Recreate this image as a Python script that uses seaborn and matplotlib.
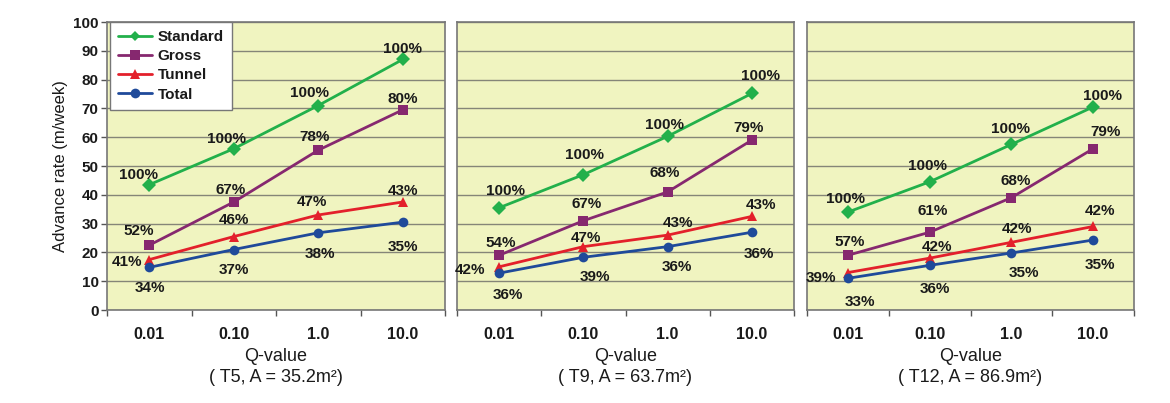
import numpy as np
import pandas as pd
import matplotlib
matplotlib.use("Agg")
import matplotlib.pyplot as plt
import seaborn as sns

# ---------------- data ----------------
q_labels = ["0.01", "0.10", "1.0", "10.0"]
series_names = ["Standard", "Gross", "Tunnel", "Total"]
panel_titles = ["( T5, A = 35.2m\u00b2)", "( T9, A = 63.7m\u00b2)", "( T12, A = 86.9m\u00b2)"]

t5_standard = [43.5, 56.0, 71.0, 87.0]
t5_gross = [22.5, 37.5, 55.5, 69.5]
t5_tunnel = [17.5, 25.5, 33.0, 37.5]
t5_total = [14.8, 21.0, 26.8, 30.5]

t9_standard = [35.5, 47.0, 60.3, 75.2]
t9_gross = [19.0, 31.0, 41.0, 59.0]
t9_tunnel = [15.0, 22.0, 26.0, 32.5]
t9_total = [12.8, 18.3, 22.0, 27.0]

t12_standard = [34.0, 44.5, 57.5, 70.5]
t12_gross = [19.0, 27.0, 39.0, 56.0]
t12_tunnel = [13.0, 18.0, 23.5, 29.0]
t12_total = [11.0, 15.5, 19.8, 24.3]

t5_pct_standard = ["100%", "100%", "100%", "100%"]
t5_pct_gross = ["52%", "67%", "78%", "80%"]
t5_pct_tunnel = ["41%", "46%", "47%", "43%"]
t5_pct_total = ["34%", "37%", "38%", "35%"]

t9_pct_standard = ["100%", "100%", "100%", "100%"]
t9_pct_gross = ["54%", "67%", "68%", "79%"]
t9_pct_tunnel = ["42%", "47%", "43%", "43%"]
t9_pct_total = ["36%", "39%", "36%", "36%"]

t12_pct_standard = ["100%", "100%", "100%", "100%"]
t12_pct_gross = ["57%", "61%", "68%", "79%"]
t12_pct_tunnel = ["39%", "42%", "42%", "42%"]
t12_pct_total = ["33%", "36%", "35%", "35%"]

panels_values = [
    [t5_standard, t5_gross, t5_tunnel, t5_total],
    [t9_standard, t9_gross, t9_tunnel, t9_total],
    [t12_standard, t12_gross, t12_tunnel, t12_total],
]
panels_pcts = [
    [t5_pct_standard, t5_pct_gross, t5_pct_tunnel, t5_pct_total],
    [t9_pct_standard, t9_pct_gross, t9_pct_tunnel, t9_pct_total],
    [t12_pct_standard, t12_pct_gross, t12_pct_tunnel, t12_pct_total],
]

# ---------------- style / layout ----------------
colors = {"Standard": "#22b04b", "Gross": "#86286f", "Tunnel": "#e3202b", "Total": "#1f4a9a"}
markers = {"Standard": "D", "Gross": "s", "Tunnel": "^", "Total": "o"}
msizes = {"Standard": 5, "Gross": 7, "Tunnel": 7, "Total": 7}

# label offsets in pixels (dx, dy) per panel / series / point
label_offsets = [
    [[(-11, 10), (-7, 10), (-9, 13), (0, 10)],
     [(-11, 14), (-3, 12), (-4, 13), (0, 11)],
     [(-22, -2), (0, 17), (-6, 13), (0, 11)],
     [(1, -21), (0, -20), (2, -21), (0, -25)]],
    [[(6, 17), (1, 20), (-3, 11), (9, 17)],
     [(2, 12), (3, 17), (-3, 19), (-3, 12)],
     [(-29, -3), (3, 9), (10, 12), (9, 11)],
     [(9, -22), (12, -20), (9, -20), (7, -22)]],
    [[(-2, 13), (-2, 16), (-1, 15), (9, 11)],
     [(2, 13), (3, 21), (4, 17), (12, 17)],
     [(-27, -5), (7, 11), (6, 13), (7, 15)],
     [(12, -24), (5, -24), (13, -20), (7, -25)]],
]

sns.set_theme(style="white")
plt.rcParams["font.family"] = ["Liberation Sans", "DejaVu Sans"]

fig = plt.figure(figsize=(11.7, 4.03), dpi=100)
W, H = 1170, 403
axes_px = [(107, 338), (457, 337), (807, 327)]
top_px, bot_px = 22, 310

bg = "#f0f4c0"
grid_c = "#858578"
text_c = "#1a1a1a"

for p, (left, width) in enumerate(axes_px):
    ax = fig.add_axes([left / W, (H - bot_px) / H, width / W, (bot_px - top_px) / H])
    ax.set_facecolor(bg)
    rows = []
    for s_name, vals in zip(series_names, panels_values[p]):
        for i, v in enumerate(vals):
            rows.append({"pos": i, "value": v, "series": s_name})
    df = pd.DataFrame(rows)
    sns.lineplot(data=df, x="pos", y="value", hue="series", style="series",
                 hue_order=series_names, style_order=series_names,
                 palette=colors, markers=markers, dashes=False,
                 linewidth=2, markersize=7, markeredgewidth=0,
                 legend=(p == 0), ax=ax, zorder=3)
    for line in ax.lines:
        lab = line.get_label()
        if lab in msizes:
            line.set_markersize(msizes[lab])
    for s_idx, (vals, pcts) in enumerate(zip(panels_values[p], panels_pcts[p])):
        for i, (v, t) in enumerate(zip(vals, pcts)):
            dx, dy = label_offsets[p][s_idx][i]
            ax.annotate(t, (i, v), xytext=(dx, dy), textcoords="offset pixels",
                        ha="center", va="center", fontsize=11, color=text_c,
                        fontweight="bold", zorder=5)
    ax.set_xlim(-0.5, 3.5)
    ax.set_ylim(0, 100)
    ax.set_yticks(np.arange(0, 101, 10))
    ax.yaxis.grid(True, color=grid_c, linewidth=1.0)
    ax.xaxis.grid(False)
    ax.set_axisbelow(True)
    ax.set_xticks(range(4))
    ax.set_xticklabels(q_labels, fontsize=11.5, fontweight="bold", color=text_c)
    ax.set_xticks(np.arange(-0.5, 3.6, 1.0), minor=True)
    ax.tick_params(axis="x", which="major", length=0, pad=12.5)
    ax.tick_params(axis="x", which="minor", length=4, width=1, color="#555555", direction="out", bottom=True)
    for sp in ax.spines.values():
        sp.set_color("#777777")
        sp.set_linewidth(1.2)
    ax.set_xlabel("Q-value\n" + panel_titles[p], fontsize=13, color=text_c, labelpad=4, linespacing=1.3)
    if p == 0:
        ax.set_ylabel("Advance rate (m/week)", fontsize=12, color=text_c, labelpad=4)
        ax.set_yticklabels([str(v) for v in range(0, 101, 10)], fontsize=11, fontweight="bold", color=text_c)
        ax.tick_params(axis="y", which="major", length=4, width=1, color="#555555", direction="out", left=True, pad=2)
        leg = ax.legend(loc="upper left", bbox_to_anchor=(0.008, 1), borderaxespad=0,
                        frameon=True, fancybox=False, edgecolor="#777777",
                        prop={"size": 11, "weight": "bold"}, handlelength=2.2, handletextpad=0.4,
                        labelspacing=0.33, borderpad=0.55)
        leg.get_frame().set_facecolor("white")
        leg.get_frame().set_alpha(1.0)
        leg.set_zorder(10)
        for t in leg.get_texts():
            t.set_color(text_c)
    else:
        ax.set_ylabel("")
        ax.set_yticklabels([])
        ax.tick_params(axis="y", length=0)

fig.savefig("out.png", dpi=100, facecolor="white")
